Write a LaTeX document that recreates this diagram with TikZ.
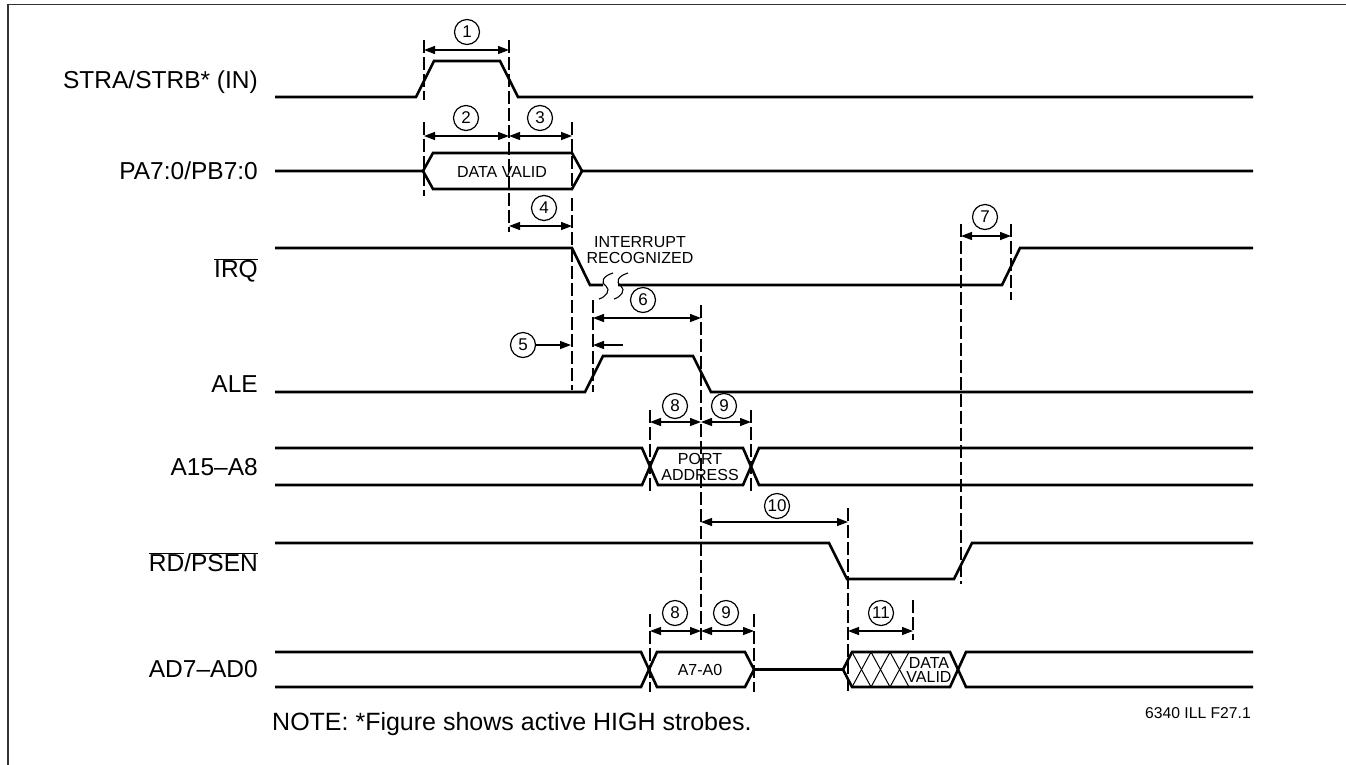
\documentclass[tikz,border=0pt]{standalone}
\usepackage{fontspec}
\setmainfont{Liberation Sans}
\usetikzlibrary{arrows.meta}
\newcommand\lblfont{\fontsize{24.5}{27}\selectfont}
\newcommand\notefont{\fontsize{25}{28}\selectfont}
\newcommand\smfont{\fontsize{16}{17.5}\selectfont}
\newcommand\figfont{\fontsize{15.7}{17}\selectfont}
\newcommand\numfont{\fontsize{17}{18}\selectfont}
\newcommand\ovl[1]{$\overline{\hbox{#1}}$}
\begin{document}
\begin{tikzpicture}[x=1pt,y=-1pt,
  sig/.style={line width=2.6pt,line join=miter},
  tim/.style={line width=1.1pt,dash pattern=on 13pt off 4pt},
  dim/.style={line width=1.3pt,{Triangle[length=11pt,width=8pt]}-{Triangle[length=11pt,width=8pt]}},
  dimr/.style={line width=1.3pt,-{Triangle[length=11pt,width=8pt]}},
  num/.style={circle,draw,line width=1.2pt,minimum size=25pt,inner sep=0pt,font=\numfont},
  lbl/.style={anchor=east,font=\lblfont,inner sep=0pt},
  sm/.style={font=\smfont,align=center,inner sep=0pt},
  hat/.style={line width=1pt}]
\useasboundingbox (0,0) rectangle (1346,764);
\begin{scope}
\clip (0,0) rectangle (1346,764);
\draw[line width=1.8pt,black!80] (8,780) -- (8,4.5) -- (1360,4.5);
\end{scope}
% labels
\node[lbl] (lstra) at (258,82) {STRA/STRB* (IN)};
\node[lbl] (lpa) at (258,171) {PA7:0/PB7:0};
\node[lbl] (lirq) at (258,270) {\ovl{IRQ}};
\node[lbl] (lale) at (258,384) {ALE};
\node[lbl] (la15) at (258,467) {A15–A8};
\node[lbl] (lrd) at (258,562) {\ovl{RD}/\ovl{PSEN}};
\node[lbl] (lad) at (258,669) {AD7–AD0};
% STRA
\draw[sig] (275,97) -- (416,97) -- (434,61) -- (500,61) -- (518,97) -- (1253,97);
% PA
\draw[sig] (275,171) -- (423,171) -- (433,153) -- (572,153) -- (582,171) -- (1253,171);
\draw[sig] (423,171) -- (433,189) -- (572,189) -- (582,171);
\node[sm] (tdv) at (502,172) {DATA VALID};
% IRQ
\draw[sig] (275,248) -- (572,248) -- (590,285) -- (603,285);
\draw[sig] (618,285) -- (1002,285) -- (1020,248) -- (1253,248);
\draw[line width=1.1pt] (613,273) .. controls (603,276) and (600,282) .. (606,286) .. controls (611,290) and (606,297) .. (599,299);
\draw[line width=1.1pt] (628,273) .. controls (618,276) and (615,282) .. (621,286) .. controls (626,290) and (621,297) .. (614,299);
\node[sm] (tint) at (640,250) {INTERRUPT\\[-2pt]RECOGNIZED};
% ALE
\draw[sig] (275,392) -- (585,392) -- (603,356) -- (693,356) -- (711,392) -- (1253,392);
% A15-A8
\draw[sig] (275,448) -- (642,448) -- (658,485) -- (743,485) -- (759,448) -- (1253,448);
\draw[sig] (275,485) -- (642,485) -- (658,448) -- (743,448) -- (759,485) -- (1253,485);
\node[sm] (tpa) at (700,467) {PORT\\[-2pt]ADDRESS};
% RD/PSEN
\draw[sig] (275,543) -- (829,543) -- (847,579) -- (954,579) -- (972,543) -- (1253,543);
% AD7-AD0
\draw[sig] (275,652) -- (641,652) -- (657,687) -- (745,687) -- (754,669.5) -- (843,669.5) -- (852,652) -- (950,652) -- (966,687) -- (1253,687);
\draw[sig] (275,687) -- (641,687) -- (657,652) -- (745,652) -- (754,669.5);
\draw[sig] (843,669.5) -- (852,687) -- (950,687) -- (966,652) -- (1253,652);
\foreach \i in {0,1,2} {
  \draw[hat] (852+19*\i,652) -- (871+19*\i,687);
  \draw[hat] (852+19*\i,687) -- (871+19*\i,652);
}
\node[sm] (ta7) at (700,670) {A7-A0};
\node[sm] (tdv2) at (929,670) {DATA\\[-3pt]VALID};
% timing dashed lines
\draw[tim] (424,40) -- (424,100);
\draw[tim] (424,122) -- (424,196);
\draw[tim] (509,40) -- (509,232);
\draw[tim] (572,122) -- (572,190);
\draw[tim] (572,198) -- (572,390);
\draw[tim] (593,300) -- (593,392);
\draw[tim] (701,305) -- (701,640);
\draw[tim] (650,410) -- (650,492);
\draw[tim] (751,410) -- (751,492);
\draw[tim] (650,614) -- (650,692);
\draw[tim] (754,614) -- (754,692);
\draw[tim] (848,508) -- (848,692);
\draw[tim] (913,600) -- (913,640);
\draw[tim] (961,224) -- (961,584);
\draw[tim] (1011,224) -- (1011,300);
% dimension arrows
\coordinate (a1l) at (424,50); \coordinate (a1r) at (509,50);
\draw[dim] (a1l) -- (a1r); \node[num] (n1) at (467,32) {1};
\coordinate (a2l) at (424,136); \coordinate (a2r) at (509,136); \coordinate (a3r) at (572,136);
\draw[dim] (a2l) -- (a2r); \node[num] (n2) at (466,118) {2};
\draw[dim] (a2r) -- (a3r); \node[num] (n3) at (540,118) {3};
\coordinate (a4l) at (509,226); \coordinate (a4r) at (572,226);
\draw[dim] (a4l) -- (a4r); \node[num] (n4) at (544,208) {4};
\node[num] (n5) at (523,345) {5};
\coordinate (a5r) at (571,345); \draw[dimr] (n5) -- (a5r);
\coordinate (a5b) at (623,345); \coordinate (a5c) at (593,345); \draw[dimr] (a5b) -- (a5c);
\coordinate (a6l) at (593,318); \coordinate (a6r) at (701,318);
\draw[dim] (a6l) -- (a6r); \node[num] (n6) at (643,300) {6};
\coordinate (a7l) at (961,236); \coordinate (a7r) at (1011,236);
\draw[dim] (a7l) -- (a7r); \node[num] (n7) at (985,217) {7};
\coordinate (a8l) at (650,422); \coordinate (a8m) at (701,422); \coordinate (a8r) at (751,422);
\draw[dim] (a8l) -- (a8m); \node[num] (n8) at (675,406) {8};
\draw[dim] (a8m) -- (a8r); \node[num] (n9) at (724,406) {9};
\coordinate (a10l) at (701,522); \coordinate (a10r) at (848,522);
\draw[dim] (a10l) -- (a10r); \node[num] (n10) at (777,506) {10};
\coordinate (b8l) at (650,631); \coordinate (b8m) at (701,631); \coordinate (b8r) at (754,631);
\draw[dim] (b8l) -- (b8m); \node[num] (m8) at (675,613) {8};
\draw[dim] (b8m) -- (b8r); \node[num] (m9) at (726,613) {9};
\coordinate (a11l) at (848,631); \coordinate (a11r) at (913,631);
\draw[dim] (a11l) -- (a11r); \node[num] (n11) at (881,613) {11};
% notes
\node[anchor=west,font=\notefont,inner sep=0pt] (note) at (272,724) {NOTE: *Figure shows active HIGH strobes.};
\node[anchor=east,font=\figfont,inner sep=0pt] (fig) at (1251,713) {6340 ILL F27.1};
\end{tikzpicture}
\end{document}
